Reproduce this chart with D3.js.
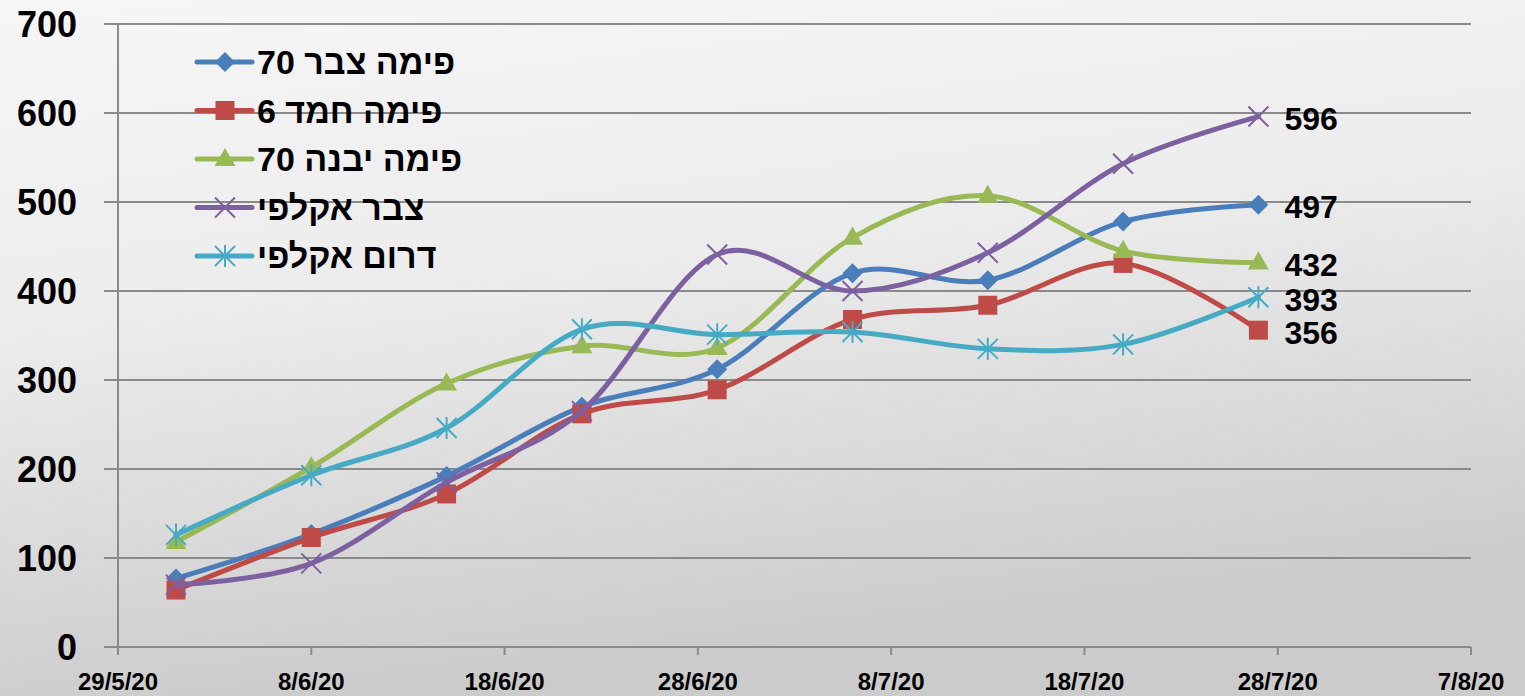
<!DOCTYPE html>
<html>
<head>
<meta charset="utf-8">
<script src="https://cdn.jsdelivr.net/npm/d3@7"></script>
<style>
    html, body { margin: 0; padding: 0; }
    body { width: 1525px; height: 696px; overflow: hidden; }
    text { font-family: "Liberation Sans", "DejaVu Sans", sans-serif; font-weight: bold; fill: #000; }
</style>
</head>
<body>
<div id="chart"></div>
<script>
// sample dates (weekly)
const dates = ["1/6/20", "8/6/20", "15/6/20", "22/6/20", "29/6/20", "6/7/20", "13/7/20", "20/7/20", "27/7/20"];

const seriesNames = ["פימה צבר 70", "פימה חמד 6", "פימה יבנה 70", "צבר אקלפי", "דרום אקלפי"];
const pimaTzabar = [77, 127, 192, 270, 312, 420, 412, 478, 497];
const pimaHemed = [64, 123, 172, 262, 289, 368, 384, 431, 356];
const pimaYavne = [118, 202, 296, 338, 336, 460, 507, 445, 432];
const tzabarAklafi = [70, 94, 185, 265, 441, 400, 443, 543, 596];
const daromAklafi = [126, 193, 246, 357, 351, 354, 335, 340, 393];

const xTickLabels = ["29/5/20", "8/6/20", "18/6/20", "28/6/20", "8/7/20", "18/7/20", "28/7/20", "7/8/20"];
const yTicks = [0, 100, 200, 300, 400, 500, 600, 700];

const colors = ["#4a7ebb", "#be4b48", "#98b954", "#7d60a0", "#46aac5"];
const markers = ["diamond", "square", "triangle", "cross", "star"];

const width = 1525, height = 696;
const margin = { left: 118, right: 54, top: 24, bottom: 49 };

const parse = d3.utcParse("%d/%m/%y");

const svg = d3.select("#chart").append("svg")
    .attr("width", width)
    .attr("height", height);

// background
const defs = svg.append("defs");
const grad = defs.append("linearGradient")
    .attr("id", "bg")
    .attr("x1", 0).attr("y1", 0).attr("x2", 0.25).attr("y2", 1);
grad.append("stop").attr("offset", "0%").attr("stop-color", "#f6f6f6");
grad.append("stop").attr("offset", "45%").attr("stop-color", "#ececec");
grad.append("stop").attr("offset", "100%").attr("stop-color", "#cbcbcb");
svg.append("rect").attr("width", width).attr("height", height).attr("fill", "url(#bg)");

const x = d3.scaleUtc()
    .domain([parse(xTickLabels[0]), parse(xTickLabels[xTickLabels.length - 1])])
    .range([margin.left, width - margin.right]);

const y = d3.scaleLinear()
    .domain([0, 700])
    .range([height - margin.bottom, margin.top]);

// gridlines
svg.append("g")
    .selectAll("line")
    .data(yTicks)
    .join("line")
    .attr("x1", margin.left - 14)
    .attr("x2", width - margin.right)
    .attr("y1", d => y(d))
    .attr("y2", d => y(d))
    .attr("stroke", "#8a8a8a")
    .attr("stroke-width", 2);

// y axis line
svg.append("line")
    .attr("x1", margin.left).attr("x2", margin.left)
    .attr("y1", y(700)).attr("y2", y(0))
    .attr("stroke", "#8a8a8a")
    .attr("stroke-width", 2);

// y labels
svg.append("g")
    .selectAll("text")
    .data(yTicks)
    .join("text")
    .attr("x", 77)
    .attr("y", d => y(d))
    .attr("dy", "0.36em")
    .attr("text-anchor", "end")
    .style("font-size", "36px")
    .text(d => d);

// x axis ticks + labels
const xAxis = svg.append("g");
xAxis.selectAll("line")
    .data(xTickLabels)
    .join("line")
    .attr("x1", d => x(parse(d)))
    .attr("x2", d => x(parse(d)))
    .attr("y1", y(0))
    .attr("y2", y(0) + 8)
    .attr("stroke", "#8a8a8a")
    .attr("stroke-width", 2);
xAxis.selectAll("text")
    .data(xTickLabels)
    .join("text")
    .attr("x", d => x(parse(d)))
    .attr("y", 690)
    .attr("text-anchor", "middle")
    .style("font-size", "24px")
    .text(d => d);

// marker shapes
function drawMarker(g, type, color) {
    if (type == "diamond") {
        g.append("path")
            .attr("d", d3.symbol(d3.symbolSquare, 200)())
            .attr("transform", "rotate(45)")
            .attr("fill", color);
    } else if (type == "square") {
        g.append("path")
            .attr("d", d3.symbol(d3.symbolSquare, 361)())
            .attr("fill", color);
    } else if (type == "triangle") {
        g.append("path")
            .attr("d", d3.symbol(d3.symbolTriangle, 190)())
            .attr("transform", "translate(0,1)")
            .attr("fill", color);
    } else {
        const r = 10;
        let p = `M${-r},${-r}L${r},${r}M${-r},${r}L${r},${-r}`;
        if (type == "star") p += `M0,${-r - 1}L0,${r + 1}`;
        g.append("path")
            .attr("d", p)
            .attr("stroke", color)
            .attr("stroke-width", 2)
            .attr("fill", "none");
    }
}

const allSeries = [pimaTzabar, pimaHemed, pimaYavne, tzabarAklafi, daromAklafi];

const line = d3.line()
    .x((d, i) => x(parse(dates[i])))
    .y(d => y(d))
    .curve(d3.curveCardinal.tension(0));

allSeries.forEach((values, s) => {
    const g = svg.append("g").attr("class", "series");
    g.append("path")
        .datum(values)
        .attr("d", line)
        .attr("fill", "none")
        .attr("stroke", colors[s])
        .attr("stroke-width", 5)
        .attr("stroke-linecap", "round");
    values.forEach((v, i) => {
        const m = g.append("g")
            .attr("transform", `translate(${x(parse(dates[i]))},${y(v)})`);
        drawMarker(m, markers[s], colors[s]);
    });
    // last value label
    const last = values[values.length - 1];
    g.append("text")
        .attr("x", x(parse(dates[dates.length - 1])) + 26)
        .attr("y", y(last) + 2)
        .attr("dy", "0.36em")
        .style("font-size", "32px")
        .text(last);
});

// legend
const legend = svg.append("g").attr("transform", "translate(197,62)");
seriesNames.forEach((name, s) => {
    const row = legend.append("g").attr("transform", `translate(0,${s * 48.5})`);
    row.append("line")
        .attr("x1", 0).attr("x2", 55)
        .attr("stroke", colors[s])
        .attr("stroke-width", 5)
        .attr("stroke-linecap", "round");
    const m = row.append("g").attr("transform", "translate(28,0)");
    drawMarker(m, markers[s], colors[s]);
    row.append("text")
        .attr("x", 60)
        .attr("y", 0)
        .attr("dy", "0.36em")
        .attr("direction", "rtl")
        .attr("text-anchor", "end")
        .style("font-size", "34px")
        .text(name);
});
</script>
</body>
</html>
